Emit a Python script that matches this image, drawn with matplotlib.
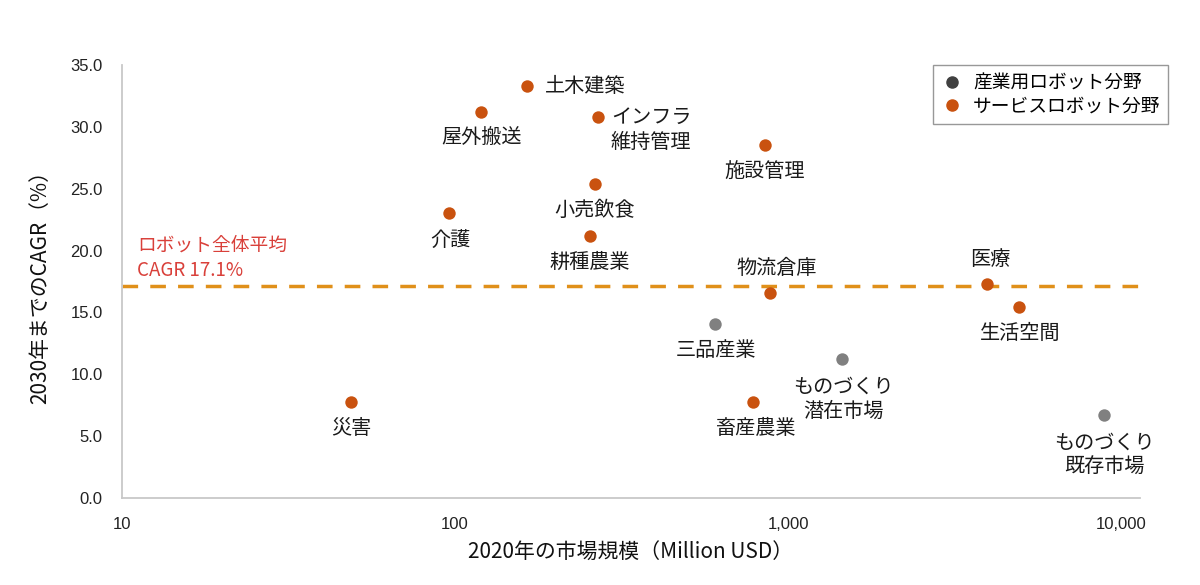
import matplotlib
matplotlib.use("Agg")
import matplotlib.pyplot as plt
from matplotlib.lines import Line2D
from matplotlib.ticker import FixedLocator, FuncFormatter, NullLocator

plt.rcParams['font.family'] = ['Noto Sans CJK JP', 'DejaVu Sans']

# Service robot fields (orange)
svc_names = ["土木建築", "屋外搬送", "インフラ\n維持管理", "施設管理", "小売飲食", "介護",
             "耕種農業", "物流倉庫", "医療", "生活空間", "災害", "畜産農業"]
svc_size = [164, 120, 269, 853, 263, 96, 254, 883, 3960, 4940, 48.7, 785]
svc_cagr = [33.3, 31.2, 30.8, 28.5, 25.4, 23.0, 21.2, 16.6, 17.3, 15.4, 7.8, 7.8]

# Industrial robot fields (gray)
ind_names = ["三品産業", "ものづくり\n潜在市場", "ものづくり\n既存市場"]
ind_size = [604, 1452, 8890]
ind_cagr = [14.1, 11.2, 6.7]

avg_cagr = 17.1

# label offsets in pixels (dx, dy, ha)
svc_off = [(18, 0, 'left'), (0, -26, 'center'), (53, -13, 'center'), (0, -27, 'center'),
           (0, -27, 'center'), (1, -27, 'center'), (0, -27, 'center'), (7, 24, 'center'),
           (3, 24, 'center'), (1, -26, 'center'), (0, -27, 'center'), (2, -27, 'center')]
ind_off = [(1, -27, 'center'), (1, -40, 'center'), (0, -40, 'center')]

orange = "#C9520F"
gray = "#808080"

fig = plt.figure(figsize=(12, 5.85), dpi=100)
ax = fig.add_axes([122 / 1200, 1 - 498 / 585, (1140 - 122) / 1200, (498 - 65) / 585])

ax.set_xscale('log')
ax.set_xlim(10, 11400)
ax.set_ylim(0, 35)

ax.axhline(avg_cagr, color="#E0901A", lw=2.5, ls=(0, (4.5, 3.5)), zorder=1)
ax.text(11.1, avg_cagr + 0.45, "ロボット全体平均\nCAGR 17.1%", color="#D9403A", fontsize=13.5,
        ha='left', va='bottom', linespacing=1.25)

ax.scatter(ind_size, ind_cagr, s=80, color=gray, zorder=3, linewidths=0)
ax.scatter(svc_size, svc_cagr, s=80, color=orange, zorder=3, linewidths=0)

for name, x, y, (dx, dy, ha) in zip(svc_names + ind_names, svc_size + ind_size,
                                    svc_cagr + ind_cagr, svc_off + ind_off):
    ax.annotate(name, (x, y), xytext=(dx, dy), textcoords='offset pixels',
                ha=ha, va='center', fontsize=14.5, color="#1a1a1a", linespacing=1.2)

ax.xaxis.set_major_locator(FixedLocator([10, 100, 1000, 10000]))
ax.xaxis.set_minor_locator(NullLocator())
ax.xaxis.set_major_formatter(FuncFormatter(lambda v, p: f"{int(round(v)):,}"))
ax.set_yticks([0, 5, 10, 15, 20, 25, 30, 35])
ax.yaxis.set_major_formatter(FuncFormatter(lambda v, p: f"{v:.1f}"))

for lab in ax.get_xticklabels() + ax.get_yticklabels():
    lab.set_family(['Liberation Sans', 'DejaVu Sans'])
    lab.set_fontsize(12)
    lab.set_color("#222222")
ax.tick_params(axis='both', length=0)
ax.tick_params(axis='x', pad=14)
ax.tick_params(axis='y', pad=14)

for s in ['top', 'right']:
    ax.spines[s].set_visible(False)
ax.spines['left'].set_color("#C8C8C8")
ax.spines['bottom'].set_color("#C8C8C8")
ax.spines['left'].set_linewidth(1.3)
ax.spines['bottom'].set_linewidth(1.3)

ax.set_xlabel("2020年の市場規模（Million USD）", fontsize=15, color="#111111", labelpad=6)
ax.set_ylabel("2030年までのCAGR（%）", fontsize=15, color="#111111", labelpad=14)

handles = [Line2D([], [], marker='o', ls='', color="#404040", markersize=8),
           Line2D([], [], marker='o', ls='', color=orange, markersize=8)]
leg = ax.legend(handles, ["産業用ロボット分野", "サービスロボット分野"], loc='upper right',
                bbox_to_anchor=(1.0275, 1.0), borderaxespad=0, fontsize=13.5, frameon=True,
                fancybox=False, handletextpad=0.45, borderpad=0.4, labelspacing=0.1,
                handlelength=1.3)
leg.get_frame().set_edgecolor("#7F7F7F")
leg.get_frame().set_linewidth(1.0)

fig.savefig("out.png", dpi=100)
